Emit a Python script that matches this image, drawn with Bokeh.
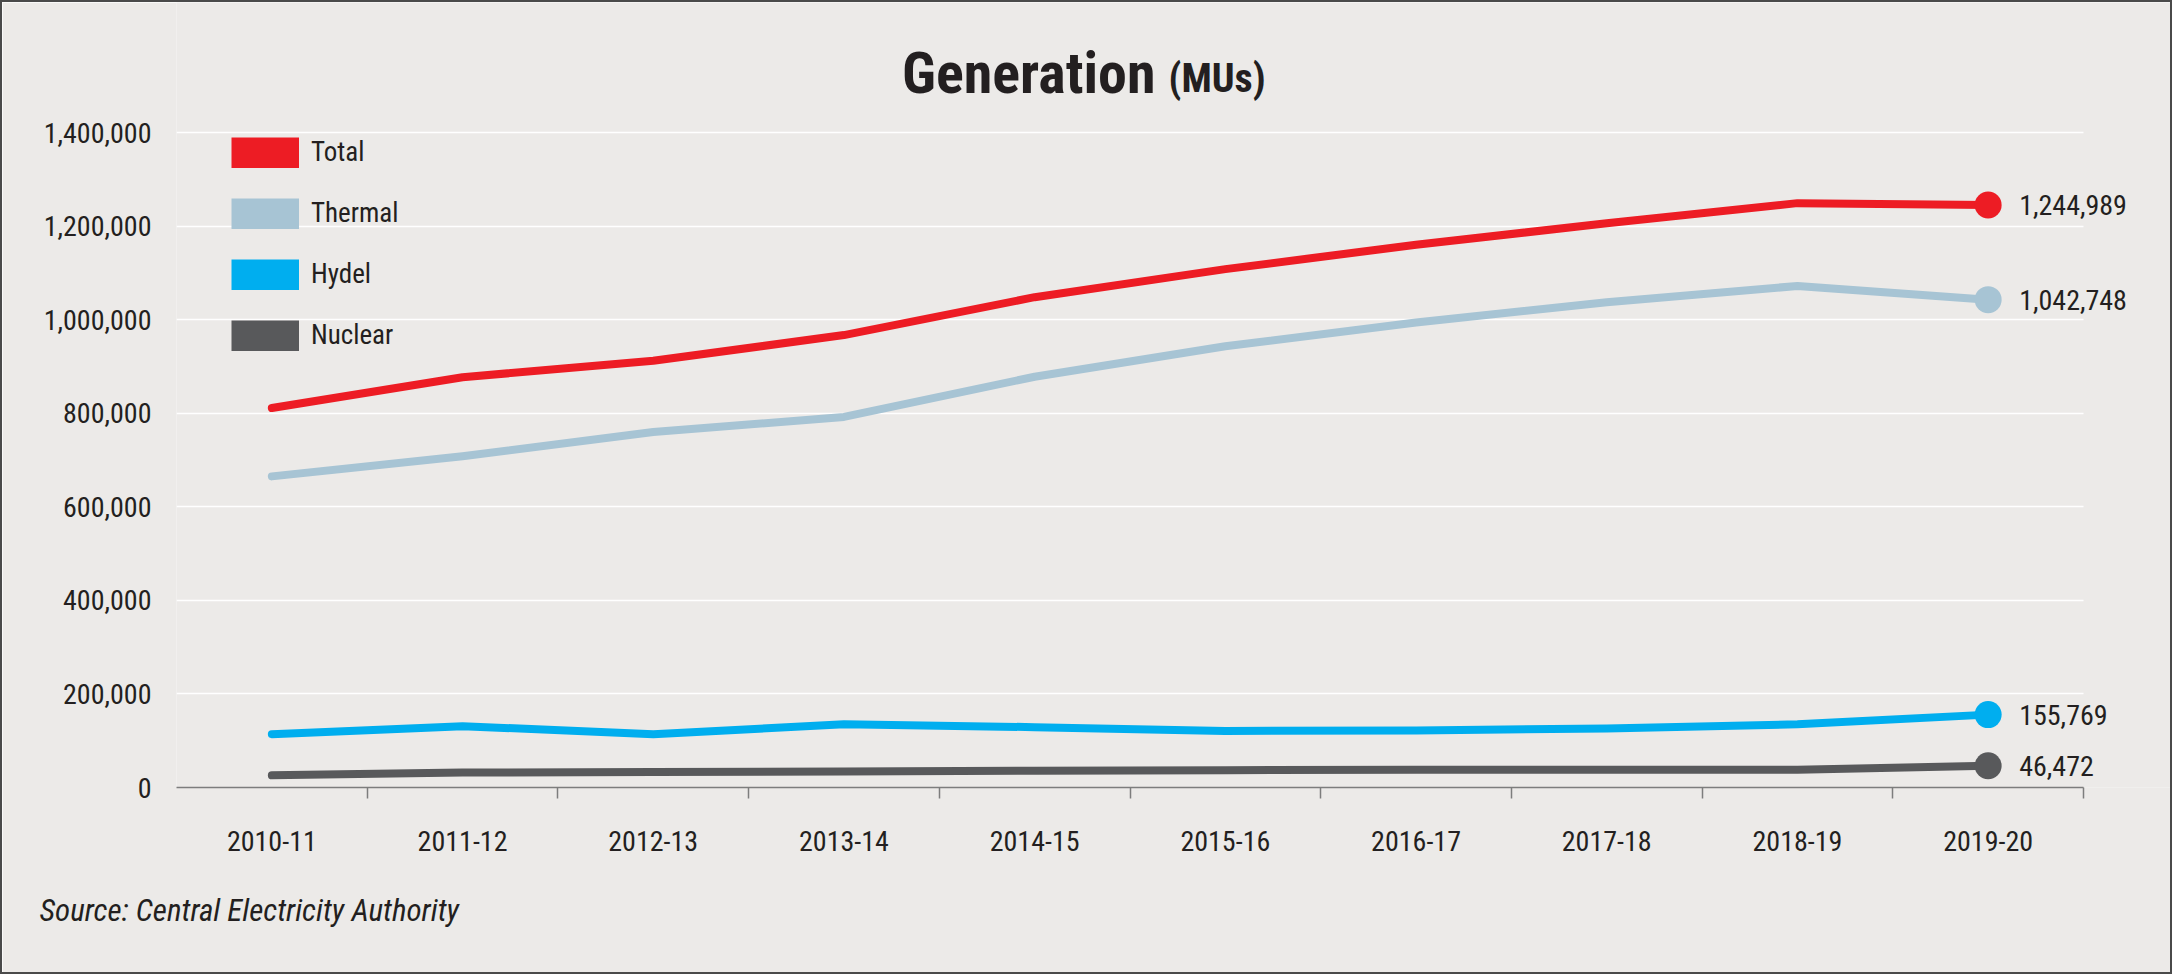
from bokeh.plotting import figure
from bokeh.models import (Range1d, FixedTicker, NumeralTickFormatter, Label,
                          Legend, LegendItem, ColumnDataSource, Title)
from bokeh.embed import file_html
from bokeh.resources import INLINE

# ---------------- data ----------------
years = ["2010-11", "2011-12", "2012-13", "2013-14", "2014-15",
         "2015-16", "2016-17", "2017-18", "2018-19", "2019-20"]
total = [811000, 877000, 912000, 967000, 1048000, 1108000, 1160000, 1206000, 1249000, 1244989]
thermal = [665000, 708000, 760000, 792000, 878000, 943000, 994000, 1037000, 1072000, 1042748]
hydel = [114000, 131000, 114000, 135000, 129000, 121000, 122000, 126000, 135000, 155769]
nuclear = [26000, 32000, 33000, 34000, 36000, 37000, 38000, 38000, 38000, 46472]
series_names = ["Total", "Thermal", "Hydel", "Nuclear"]
series_values = [total, thermal, hydel, nuclear]
series_colors = ["#ED1C24", "#A7C4D4", "#00AEEF", "#58595B"]
y_ticks = [0, 200000, 400000, 600000, 800000, 1000000, 1200000, 1400000]

# ---------------- layout (canvas px) ----------------
W, H = 2172, 974
AX_L, AX_R, AX_T, AX_B = 174, 2081, 130, 785   # axis area (x: 0..n, y: 0..YMAX)
BG = "#ECEAE8"
TXT = "#231F20"
FONT = "'Roboto Condensed', Roboto, sans-serif"
TFONT = "'Roboto Condensed', Roboto, sans-serif"

n = len(years)
xs = [i + 0.5 for i in range(n)]
YMAX = y_ticks[-1]
px_per_x = (AX_R - AX_L) / n
px_per_y = (AX_B - AX_T) / YMAX

def dx(px):
    return (px - AX_L) / px_per_x

def dy(py):
    return (AX_B - py) / px_per_y

# frame spans from the axis-left to the canvas right and from the canvas top to the x axis
p = figure(width=W, height=H, output_backend="svg", toolbar_location=None,
           x_range=Range1d(0, dx(W)), y_range=Range1d(0, dy(0)),
           min_border_left=AX_L, min_border_right=0,
           min_border_top=0, min_border_bottom=H - AX_B,
           background_fill_color=BG, border_fill_color=BG,
           outline_line_color=None)
p.styles = {"border": "2px solid #4a4a4a", "box-sizing": "border-box"}

# grid
p.xgrid.visible = False
p.ygrid.ticker = FixedTicker(ticks=y_ticks)
p.ygrid.grid_line_color = "white"
p.ygrid.grid_line_width = 1.5
p.ygrid.cross_bounds = (0, n)

# y axis
p.yaxis.ticker = FixedTicker(ticks=y_ticks)
p.yaxis.formatter = NumeralTickFormatter(format="0,0")
p.yaxis.axis_line_color = None
p.yaxis.major_tick_line_color = None
p.yaxis.minor_tick_line_color = None
p.yaxis.major_label_standoff = 19
p.yaxis.major_label_text_font = FONT
p.yaxis.major_label_text_font_size = "28px"
p.yaxis.major_label_text_color = TXT

# x axis
p.xaxis.ticker = FixedTicker(ticks=xs, minor_ticks=list(range(1, n + 1)))
p.xaxis.major_label_overrides = {x: y for x, y in zip(xs, years)}
p.xaxis.bounds = (0, n)
p.xaxis.axis_line_color = "#7d7d7d"
p.xaxis.axis_line_width = 1.5
p.xaxis.major_tick_line_color = None
p.xaxis.minor_tick_line_color = "#7d7d7d"
p.xaxis.minor_tick_line_width = 1.5
p.xaxis.minor_tick_out = 11
p.xaxis.minor_tick_in = 0
p.xaxis.major_label_standoff = 32
p.xaxis.major_label_text_font = FONT
p.xaxis.major_label_text_font_size = "28px"
p.xaxis.major_label_text_color = TXT

# lines, end markers and end labels
nan = float("nan")
legend_items = []
for name, vals, col in zip(series_names, series_values, series_colors):
    src = ColumnDataSource(dict(x=xs, y=vals))
    p.line("x", "y", source=src, line_color=col, line_width=8, line_cap="round",
           line_join="round")
    p.scatter([xs[-1]], [vals[-1]], size=27, fill_color=col, line_color=None)
    p.add_layout(Label(x=xs[-1], y=vals[-1], x_offset=31, text=f"{vals[-1]:,}",
                       text_font=FONT, text_font_size="28px", text_color=TXT,
                       text_baseline="middle", text_align="left"))
    # legend swatch: a wide bar drawn only in the legend
    sw = p.line(x=[nan], y=[nan], line_color=col, line_width=31, line_cap="butt")
    legend_items.append(LegendItem(label=name, renderers=[sw]))

legend = Legend(items=legend_items, location=(55, (AX_B - AX_T) - 223),
                glyph_width=68, glyph_height=31, spacing=21, padding=0, margin=0,
                label_standoff=12, label_text_font=FONT, label_text_font_size="27px",
                label_text_color=TXT, background_fill_alpha=0, border_line_color=None,
                label_height=40)
p.add_layout(legend)

# title
p.add_layout(Label(x=dx(1153), y=dy(70), text="Generation", text_align="right",
                   text_baseline="middle", text_font=TFONT, text_font_style="bold",
                   text_font_size="58px", text_color=TXT))
p.add_layout(Label(x=dx(1166), y=dy(76), text="(MUs)", text_align="left",
                   text_baseline="middle", text_font=TFONT, text_font_style="bold",
                   text_font_size="40px", text_color=TXT))

# source
p.add_layout(Title(text="Source: Central Electricity Authority", align="left",
                   offset=-(AX_L - 37), standoff=72, text_font=FONT,
                   text_font_style="italic", text_font_size="31px",
                   text_color=TXT), "below")

open("out.html", "w").write(file_html(p, INLINE))
